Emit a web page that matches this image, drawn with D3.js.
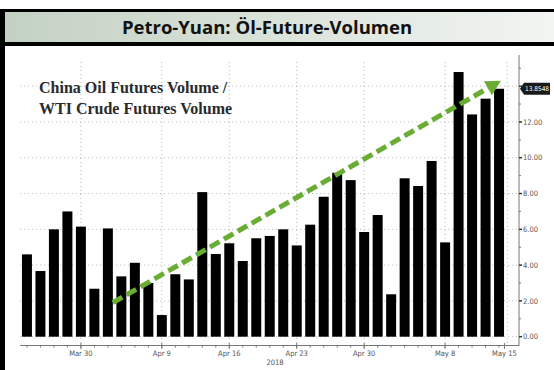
<!DOCTYPE html>
<html><head><meta charset="utf-8">
<script src="https://cdn.jsdelivr.net/npm/d3@7"></script>
<style>html,body{margin:0;padding:0;background:#fff;}svg{display:block;}</style>
</head><body>
<svg id="c" width="554" height="370"></svg>
<script>
// ---- data ----
const title = "Petro-Yuan: Öl-Future-Volumen";
const noteLines = ["China Oil Futures Volume /", "WTI Crude Futures Volume"];
const values = [4.6, 3.67, 6.0, 7.0, 6.15, 2.68, 6.05, 3.37, 4.13, 3.0, 1.21, 3.49,
                3.2, 8.08, 4.62, 5.22, 4.23, 5.5, 5.63, 6.0, 5.1, 6.26, 7.82, 9.16,
                8.75, 5.85, 6.8, 2.37, 8.85, 8.42, 9.82, 5.27, 14.79, 12.42, 13.3, 13.8548];
const xTickLabels = ["Mar 30", "Apr 9", "Apr 16", "Apr 23", "Apr 30", "May 8", "May 15"];
const xTickIndex = [4, 10, 15, 20, 25, 31, 35.4];
const xGridIndex = [4, 10, 15, 20, 25, 31];
const yearLabel = "2018";
const yTicks = [0, 2, 4, 6, 8, 10, 12];
const yGrid = [0, 2, 4, 6, 8, 10, 12, 14];
const lastValueLabel = "13.8548";
const trendStart = [6.36, 1.9];
const trendEnd = [35.14, 14.3];

// ---- layout ----
const svg = d3.select("#c");
const W = 554, H = 370;
const plotLeft = 20.2, plotRight = 505.8, axisX = 519;
const y0 = 336.7, yTop = 62;

svg.append("rect").attr("width", W).attr("height", H).attr("fill", "#fff");

// title band
const defs = svg.append("defs");
const grad = defs.append("linearGradient").attr("id", "tg").attr("x1", 0).attr("x2", 1).attr("y1", 0).attr("y2", 0);
grad.append("stop").attr("offset", "0%").attr("stop-color", "#c3d1c3");
grad.append("stop").attr("offset", "100%").attr("stop-color", "#f2f5f2");
svg.append("rect").attr("x", 4).attr("y", 10).attr("width", W - 4).attr("height", 34)
  .attr("fill", "url(#tg)");
svg.append("rect").attr("x", 4).attr("y", 9).attr("width", W - 4).attr("height", 3).attr("fill", "#000");
svg.append("rect").attr("x", 4).attr("y", 42).attr("width", W - 4).attr("height", 4).attr("fill", "#000");
svg.append("rect").attr("x", 0).attr("y", 9).attr("width", 5).attr("height", H - 9).attr("fill", "#000");
svg.append("text").attr("x", 267).attr("y", 33.5).attr("text-anchor", "middle")
  .attr("font-family", "'Open Sans', Lato, sans-serif").attr("font-weight", "bold")
  .attr("font-size", 18.5).attr("fill", "#111").text(title);

// scales
const xi = d3.scaleLinear().domain([-0.5, 35.5]).range([plotLeft, plotRight]);
const xb = d3.scaleBand().domain(d3.range(values.length)).range([plotLeft, plotRight])
  .paddingInner(0.26).paddingOuter(0.13);
const y = d3.scaleLinear().domain([0, 15.35]).range([y0, yTop]);

// grid
const gridC = "#b5b5b5";
svg.append("g").selectAll("line").data(yGrid).join("line")
  .attr("x1", plotLeft).attr("x2", axisX).attr("y1", d => y(d)).attr("y2", d => y(d))
  .attr("stroke", gridC).attr("stroke-width", 1).attr("stroke-dasharray", "1,3");
svg.append("g").selectAll("line").data(xGridIndex.concat([35.6])).join("line")
  .attr("x1", d => xi(d)).attr("x2", d => xi(d)).attr("y1", yTop).attr("y2", 345)
  .attr("stroke", gridC).attr("stroke-width", 1).attr("stroke-dasharray", "1,3");

// annotation text
svg.append("g").selectAll("text").data(noteLines).join("text")
  .attr("x", 39).attr("y", (d, i) => 93 + i * 21)
  .attr("font-family", "'Liberation Serif', 'DejaVu Serif', serif")
  .attr("font-weight", "bold").attr("font-size", 16).attr("fill", "#2a2a2a").text(d => d);

// bars
svg.append("g").selectAll("rect").data(values).join("rect")
  .attr("x", (d, i) => xb(i)).attr("width", xb.bandwidth())
  .attr("y", d => y(d)).attr("height", d => y0 - y(d)).attr("fill", "#000");

// x axis
const axC = "#777";
svg.append("line").attr("x1", plotLeft).attr("x2", axisX).attr("y1", 345.5).attr("y2", 345.5)
  .attr("stroke", axC).attr("stroke-width", 1);
svg.append("g").selectAll("line").data(d3.range(values.length)).join("line")
  .attr("x1", d => xi(d)).attr("x2", d => xi(d)).attr("y1", 345.5).attr("y2", 347.5)
  .attr("stroke", axC);
svg.append("g").selectAll("line").data(xTickIndex).join("line")
  .attr("x1", d => xi(d)).attr("x2", d => xi(d)).attr("y1", 343).attr("y2", 349)
  .attr("stroke", axC);
svg.append("g").selectAll("text").data(xTickLabels).join("text")
  .attr("x", (d, i) => xi(xTickIndex[i])).attr("y", 356).attr("text-anchor", "middle")
  .attr("font-family", "'DejaVu Sans Condensed', 'DejaVu Sans', sans-serif")
  .attr("font-size", 7.5).attr("fill", "#555").text(d => d);
svg.append("text").attr("x", 275).attr("y", 365).attr("text-anchor", "middle")
  .attr("font-family", "'DejaVu Sans Condensed', 'DejaVu Sans', sans-serif")
  .attr("font-size", 7.5).attr("fill", "#555").text(yearLabel);

// y axis (right)
svg.append("line").attr("x1", axisX).attr("x2", axisX).attr("y1", 55).attr("y2", 346)
  .attr("stroke", axC);
svg.append("g").selectAll("line").data(d3.range(0, 16, 1)).join("line")
  .attr("x1", axisX).attr("x2", d => axisX + (d % 2 === 0 ? 3 : 2))
  .attr("y1", d => y(d)).attr("y2", d => y(d)).attr("stroke", d => d % 2 === 0 ? "#333" : axC)
  .attr("stroke-width", d => d % 2 === 0 ? 1.5 : 1);
svg.append("g").selectAll("text").data(yTicks).join("text")
  .attr("x", axisX + 4).attr("y", d => y(d) + 2.6)
  .attr("font-family", "'DejaVu Sans Condensed', 'DejaVu Sans', sans-serif")
  .attr("font-size", 7.5).attr("fill", "#555").text(d => d3.format(".2f")(d));

// last value tag
const lv = values[values.length - 1];
const ty = y(lv);
svg.append("path")
  .attr("d", `M${axisX + 1},${ty} L${axisX + 5},${ty - 6} L${axisX + 31},${ty - 6} L${axisX + 31},${ty + 6} L${axisX + 5},${ty + 6} Z`)
  .attr("fill", "#1a1a1a");
svg.append("text").attr("x", axisX + 18).attr("y", ty + 2.5).attr("text-anchor", "middle")
  .attr("font-family", "'DejaVu Sans Condensed', 'DejaVu Sans', sans-serif")
  .attr("font-size", 6.5).attr("fill", "#fff").text(lastValueLabel);

// trend arrow
const sx = xi(trendStart[0]), sy = y(trendStart[1]);
const ex = xi(trendEnd[0]), ey = y(trendEnd[1]);
const ang = Math.atan2(ey - sy, ex - sx);
const headL = 15, headW = 8;
const bx = ex - headL * Math.cos(ang), by = ey - headL * Math.sin(ang);
const green = "#69ad34";
svg.append("line").attr("x1", sx).attr("y1", sy).attr("x2", bx).attr("y2", by)
  .attr("stroke", green).attr("stroke-width", 5).attr("stroke-dasharray", "11,5");
const px = -Math.sin(ang), py = Math.cos(ang);
svg.append("path")
  .attr("d", `M${ex},${ey} L${bx + px * headW},${by + py * headW} L${bx - px * headW},${by - py * headW} Z`)
  .attr("fill", green);
</script>
</body></html>
